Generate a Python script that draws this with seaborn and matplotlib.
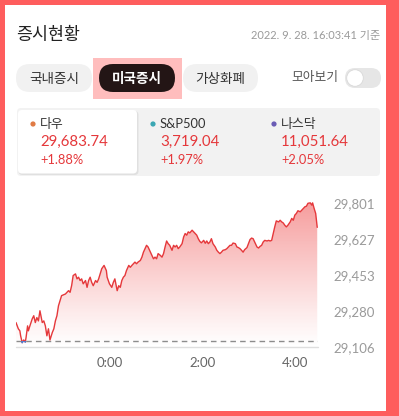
import numpy as np
import pandas as pd
import matplotlib
matplotlib.use("Agg")
import matplotlib.pyplot as plt
import seaborn as sns
from matplotlib.patches import FancyBboxPatch, Rectangle, Circle, Polygon

# ---------------- data ----------------
minutes = [-121, -118, -116, -115, -113, -111, -109, -108, -106, -105, -103, -100, -98, -96, -94, -92,
           -90, -87, -85, -83, -81, -79, -77, -74, -72, -70, -68, -66, -64, -62, -57, -55, -53, -51,
           -49, -47, -44, -42, -40, -38, -36, -34, -31, -29, -27, -25, -23, -21, -18, -16, -14, -12,
           -10, -7, -4, -3, 0, 3, 5, 7, 10, 12, 14, 16, 18, 20, 22, 25, 27, 29, 31, 33, 35, 37, 40,
           42, 44, 46, 48, 50, 53, 55, 57, 59, 61, 63, 66, 68, 70, 72, 74, 76, 78, 81, 83, 85, 87,
           89, 91, 94, 96, 98, 100, 102, 104, 107, 109, 111, 113, 115, 117, 119, 122, 124, 126, 128,
           130, 132, 134, 137, 139, 141, 143, 145, 147, 150, 152, 154, 156, 158, 160, 163, 165, 167,
           169, 171, 173, 175, 178, 180, 182, 184, 186, 188, 191, 193, 195, 197, 199, 201, 204, 206,
           208, 210, 212, 214, 216, 219, 221, 223, 225, 227, 229, 231, 234, 236, 238, 240, 242, 244,
           247, 249, 251, 253, 255, 257, 260, 262, 263, 265, 267, 269]
dow = [29224, 29194, 29184, 29160, 29127, 29140, 29130, 29151, 29208, 29184, 29208, 29242, 29257, 29224,
       29248, 29232, 29281, 29224, 29232, 29208, 29160, 29194, 29140, 29176, 29194, 29232, 29257, 29305,
       29330, 29354, 29362, 29370, 29378, 29370, 29402, 29451, 29459, 29435, 29443, 29427, 29435, 29411,
       29427, 29394, 29427, 29443, 29418, 29402, 29427, 29418, 29435, 29459, 29484, 29500, 29475, 29443,
       29411, 29394, 29418, 29435, 29378, 29402, 29394, 29427, 29443, 29451, 29475, 29500, 29491, 29500,
       29508, 29516, 29508, 29516, 29524, 29540, 29564, 29581, 29597, 29589, 29564, 29548, 29532, 29540,
       29532, 29557, 29548, 29540, 29557, 29589, 29618, 29605, 29597, 29573, 29597, 29589, 29597, 29581,
       29589, 29605, 29637, 29654, 29646, 29662, 29657, 29670, 29662, 29654, 29646, 29629, 29616, 29609,
       29621, 29607, 29618, 29605, 29613, 29629, 29605, 29589, 29573, 29564, 29557, 29564, 29573, 29576,
       29581, 29589, 29597, 29597, 29608, 29605, 29589, 29586, 29581, 29573, 29564, 29576, 29586, 29605,
       29625, 29632, 29629, 29613, 29589, 29584, 29592, 29597, 29613, 29621, 29618, 29621, 29618, 29621,
       29654, 29686, 29715, 29710, 29718, 29710, 29705, 29694, 29686, 29694, 29710, 29727, 29718, 29743,
       29751, 29764, 29759, 29767, 29775, 29783, 29786, 29800, 29802, 29791, 29802, 29775, 29751, 29683.74]
prev_close = 29135
y_ticks = [29106, 29280, 29453, 29627, 29801]
x_ticks = [0, 120, 240]
x_tick_labels = ["0:00", "2:00", "4:00"]

title = "증시현황"
timestamp = "2022. 9. 28. 16:03:41 기준"
tabs = ["국내증시", "미국증시", "가상화폐"]
toggle_label = "모아보기"
index_names = ["다우", "S&P500", "나스닥"]
index_values = ["29,683.74", "3,719.04", "11,051.64"]
index_changes = ["+1.88%", "+1.97%", "+2.05%"]
dot_colors = ["#e07b45", "#3ba7b3", "#6a5cb5"]

RED = "#e5383b"
BLUE = "#4a7fd4"

# ---------------- figure ----------------
sns.set_theme(style="white")
plt.rcParams['font.family'] = ['Lato', 'Noto Sans CJK KR', 'DejaVu Sans']

W, H = 399, 416
fig = plt.figure(figsize=(W / 100, H / 100), dpi=100)
fig.patch.set_facecolor('#fe5d5d')

bg = fig.add_axes([0, 0, 1, 1])
bg.set_xlim(0, W)
bg.set_ylim(H, 0)
bg.axis('off')
bg.add_patch(Rectangle((5, 5), 381, 406, facecolor='white', edgecolor='none'))

bg.text(16, 35, title, fontsize=12.5, color='#222222', va='center', ha='left')
bg.text(380, 35, timestamp, fontsize=8, color='#9a9a9a', va='center', ha='right')

# tabs
bg.add_patch(Rectangle((93, 58), 89, 41, facecolor='#ffbdbd', edgecolor='none'))
tab_boxes = [(16, 64, 76), (99, 64, 76), (183, 64, 75)]
for (x0, y0, w), lab, i in zip(tab_boxes, tabs, range(3)):
    active = i == 1
    bg.add_patch(FancyBboxPatch((x0, y0), w, 28, boxstyle="round,pad=0,rounding_size=14",
                                facecolor='#231515' if active else '#f1f1f1', edgecolor='none'))
    bg.text(x0 + w / 2, y0 + 14.5, lab, fontsize=9.8, color='white' if active else '#333333',
            fontweight='bold' if active else 'normal', ha='center', va='center')

bg.text(291, 77, toggle_label, fontsize=9.2, color='#555555', ha='left', va='center')
bg.add_patch(FancyBboxPatch((345, 68), 36, 20, boxstyle="round,pad=0,rounding_size=10",
                            facecolor='#e6e6e6', edgecolor='none'))
bg.add_patch(Circle((355, 78), 8.3, facecolor='white', edgecolor='#d8d8d8', lw=0.6))

# index panel
bg.add_patch(FancyBboxPatch((17, 108), 363, 68, boxstyle="round,pad=0,rounding_size=4",
                            facecolor='#f2f2f2', edgecolor='none'))
bg.add_patch(FancyBboxPatch((18.5, 111), 120, 64, boxstyle="round,pad=0,rounding_size=4",
                            facecolor='#dcdcdc', edgecolor='none', alpha=0.8))
bg.add_patch(FancyBboxPatch((18, 110), 119, 63.5, boxstyle="round,pad=0,rounding_size=4",
                            facecolor='white', edgecolor='none'))
text_x = [40, 160, 281]
for tx, name, val, chg, dc in zip(text_x, index_names, index_values, index_changes, dot_colors):
    bg.add_patch(Circle((tx - 7, 124), 2.6, facecolor=dc, edgecolor='none'))
    bg.text(tx, 124, name, fontsize=9.3, color='#333333', ha='left', va='center')
    bg.text(tx, 142, val, fontsize=10.8, color=RED, ha='left', va='center')
    bg.text(tx, 160, chg, fontsize=9.3, color=RED, ha='left', va='center')

# ---------------- chart ----------------
y_lo, y_hi = 29106, 29840
x_lo, x_hi = -121, 270
ax = fig.add_axes([16 / W, (H - 347) / H, (318 - 16) / W, (347 - 195) / H])
ax.set_facecolor('none')
df = pd.DataFrame({'t': minutes, 'v': dow})

# gradient fill under the line
grad = np.linspace(0, 1, 256)
img = np.zeros((256, 1, 4))
img[:, 0, 0], img[:, 0, 1], img[:, 0, 2] = 0.94, 0.30, 0.30
img[:, 0, 3] = 0.55 * grad ** 1.1
im = ax.imshow(img, extent=[x_lo, x_hi, y_lo, max(dow)], origin='lower', aspect='auto', zorder=1)
poly = Polygon(list(zip(minutes, dow)) + [(minutes[-1], y_lo), (minutes[0], y_lo)],
               closed=True, facecolor='none', edgecolor='none', transform=ax.transData)
ax.add_patch(poly)
im.set_clip_path(poly)

sns.lineplot(data=df, x='t', y='v', ax=ax, color=RED, lw=1.0, zorder=3)
sns.lineplot(data=df, x='t', y='v', ax=ax, color=BLUE, lw=1.1, zorder=4)
blue_line = ax.lines[-1]
clip = Rectangle((x_lo, y_lo - 100), x_hi - x_lo, prev_close - y_lo + 100, transform=ax.transData)
blue_line.set_clip_path(clip)

ax.axhline(prev_close, color='#8c8c8c', lw=1.0, ls=(0, (4, 3)), zorder=2)
ax.axhline(y_lo, color='#dedede', lw=1.0, zorder=2, clip_on=False)

ax.set_xlim(x_lo, x_hi)
ax.set_ylim(y_lo, y_hi)
for s in ax.spines.values():
    s.set_visible(False)
ax.yaxis.tick_right()
ax.set_yticks(y_ticks)
ax.set_yticklabels([f"{v:,}" for v in y_ticks], fontsize=9.5, color='#9a9a9a')
ax.set_xticks(x_ticks)
ax.set_xticklabels(x_tick_labels, fontsize=9.5, color='#666666')
ax.tick_params(axis='y', length=0, pad=11)
ax.tick_params(axis='x', length=0, pad=7)
ax.set_xlabel('')
ax.set_ylabel('')
ax.grid(False)

fig.savefig('out.png', dpi=100, facecolor=fig.get_facecolor())
